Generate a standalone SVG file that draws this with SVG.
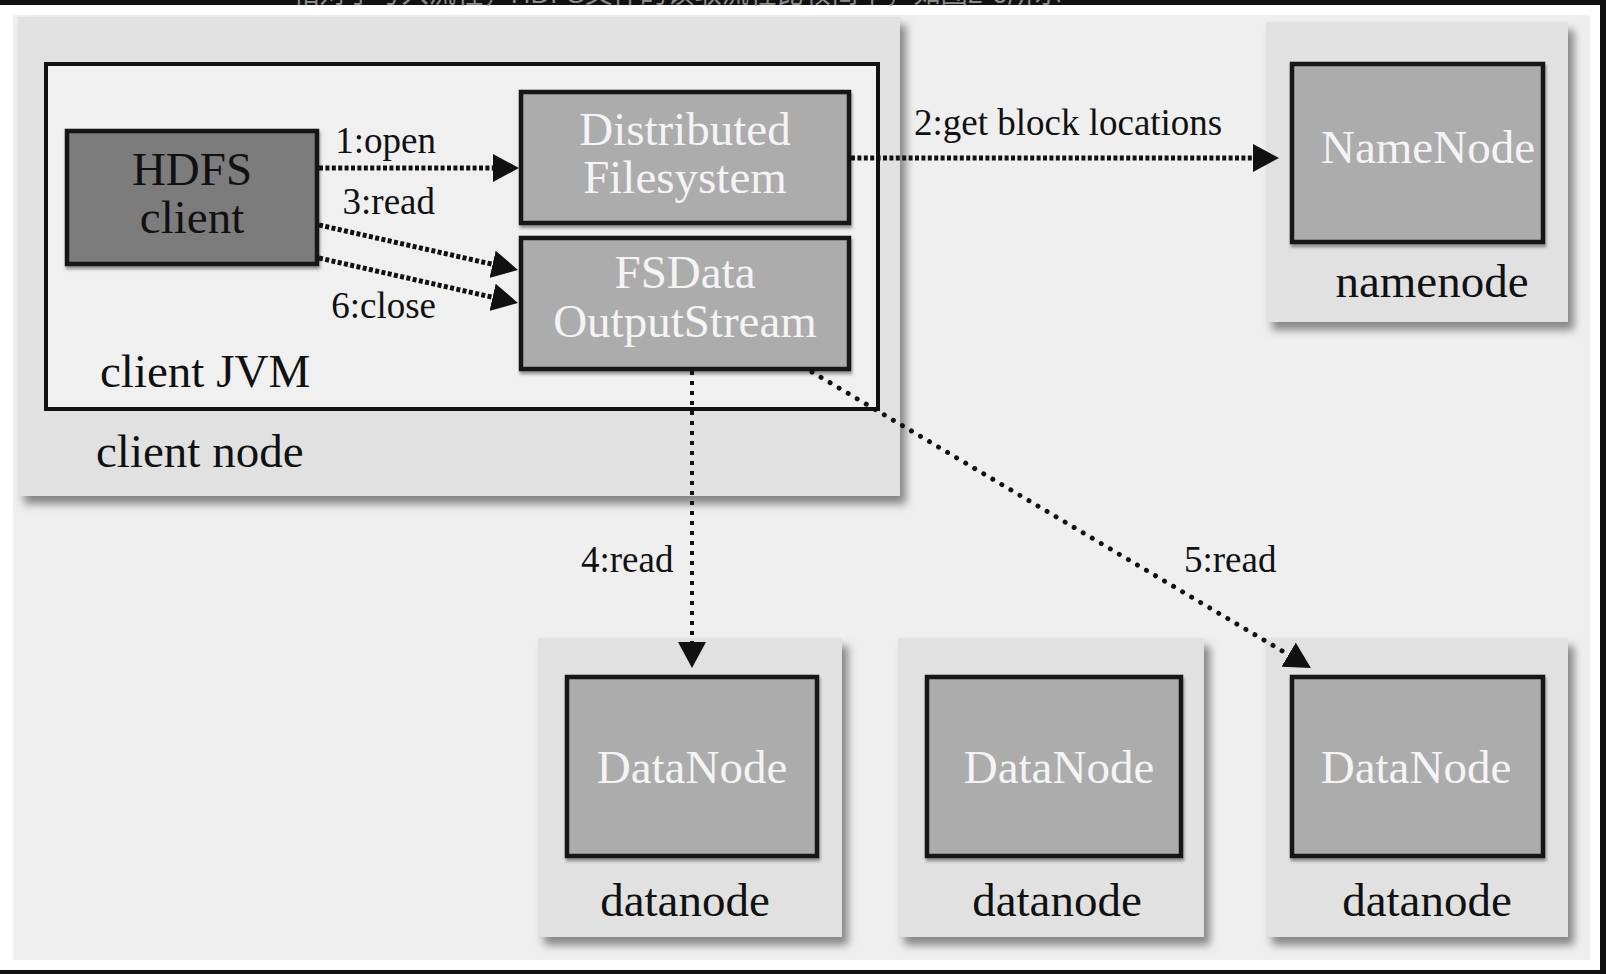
<svg xmlns="http://www.w3.org/2000/svg" width="1606" height="974" viewBox="0 0 1606 974">
  <defs>
    <filter id="shadow" x="-10%" y="-10%" width="125%" height="125%">
      <feDropShadow dx="6" dy="8" stdDeviation="4" flood-color="#7a7a7a" flood-opacity="0.9"/>
    </filter>
    <filter id="ishadow" x="-5%" y="-5%" width="112%" height="115%">
      <feDropShadow dx="1" dy="3" stdDeviation="1.5" flood-color="#555" flood-opacity="0.6"/>
    </filter>
    <marker id="arrow" markerUnits="userSpaceOnUse" markerWidth="27" markerHeight="29" refX="20" refY="14" orient="auto" viewBox="0 0 27 28">
      <path d="M0,0 L26,14 L0,28 z" fill="#111"/>
    </marker>
  </defs>
  <style>
    .outer { fill: #e1e1e1; filter: url(#shadow); }
    .jvm { fill: #f0f0f0; stroke: #111; stroke-width: 4; }
    .inner { fill: #acacac; stroke: #151515; stroke-width: 4.5; filter: url(#ishadow); }
    .dark { fill: #7b7b7b; stroke: #151515; stroke-width: 4.5; filter: url(#ishadow); }
    .big { font-family: "Liberation Serif", "Times New Roman", serif; font-size: 47px; }
    .lbl { font-family: "Liberation Serif", "Times New Roman", serif; font-size: 37px; fill: #111; }
    .white { fill: #f4f4f4; }
    .black { fill: #111; }
    .c { text-anchor: middle; }
    .e { text-anchor: end; }
    .conn { fill: none; stroke: #111; marker-end: url(#arrow); }
    .sq { stroke-width: 5; stroke-dasharray: 4 2.4; }
    .vd { stroke-width: 4; stroke-dasharray: 4 6; }
    .dot { stroke-width: 5; stroke-dasharray: 0.01 10.5; stroke-linecap: round; }
  </style>

  <!-- page frame -->
  <rect x="0" y="0" width="1606" height="974" fill="#111"/>
  <rect x="0" y="5" width="1600" height="965" fill="#ffffff"/>
  <rect x="13" y="15" width="1577" height="945" fill="#efefef"/>
  <text x="292" y="3" font-family="Liberation Sans, Noto Sans CJK SC, sans-serif" font-size="28" fill="#8a8a8a" textLength="770" lengthAdjust="spacingAndGlyphs">相对于写入流程，HDFS文件的读取流程比较简单，如图2-6所示</text>

  <!-- client node -->
  <g id="client-node">
    <rect class="outer" x="18" y="17" width="882" height="479"/>
    <text class="big black" x="96" y="467">client node</text>
  </g>
  <g id="client-jvm">
    <rect class="jvm" x="46" y="64" width="832" height="345"/>
    <text class="big black" x="100" y="387">client JVM</text>
  </g>
  <g id="hdfs-client">
    <rect class="dark" x="67" y="131" width="250" height="133"/>
    <text class="big black c" x="192" y="185">HDFS</text>
    <text class="big black c" x="192" y="233">client</text>
  </g>
  <g id="distributed-filesystem">
    <rect class="inner" x="521" y="92" width="328" height="131"/>
    <text class="big white c" x="685" y="145">Distributed</text>
    <text class="big white c" x="685" y="193">Filesystem</text>
  </g>
  <g id="fsdata-outputstream">
    <rect class="inner" x="521" y="238" width="328" height="131"/>
    <text class="big white c" x="685" y="288">FSData</text>
    <text class="big white c" x="685" y="337">OutputStream</text>
  </g>

  <!-- namenode -->
  <g id="namenode">
    <rect class="outer" x="1266" y="22" width="302" height="300"/>
    <rect class="inner" x="1292" y="64" width="251" height="178"/>
    <text class="big white c" x="1428" y="163">NameNode</text>
    <text class="big black c" x="1432" y="297">namenode</text>
  </g>

  <!-- datanodes -->
  <g id="datanode-1">
    <rect class="outer" x="538" y="638" width="304" height="299"/>
    <rect class="inner" x="567" y="677" width="250" height="179"/>
    <text class="big white c" x="692" y="783">DataNode</text>
    <text class="big black c" x="685" y="916">datanode</text>
  </g>
  <g id="datanode-2">
    <rect class="outer" x="898" y="638" width="306" height="299"/>
    <rect class="inner" x="927" y="677" width="254" height="179"/>
    <text class="big white c" x="1059" y="783">DataNode</text>
    <text class="big black c" x="1057" y="916">datanode</text>
  </g>
  <g id="datanode-3">
    <rect class="outer" x="1266" y="638" width="302" height="299"/>
    <rect class="inner" x="1292" y="677" width="251" height="179"/>
    <text class="big white c" x="1416" y="783">DataNode</text>
    <text class="big black c" x="1427" y="916">datanode</text>
  </g>

  <!-- connectors -->
  <g id="connectors">
    <line class="conn sq" x1="319" y1="168" x2="513" y2="168"/>
    <line class="conn sq" x1="851" y1="158" x2="1273" y2="158"/>
    <line class="conn sq" x1="319" y1="225" x2="512.1" y2="268.7"/>
    <line class="conn sq" x1="319" y1="258" x2="512.1" y2="301.7"/>
    <line class="conn vd" x1="692" y1="371" x2="692" y2="662"/>
    <line class="conn dot" x1="812" y1="372" x2="1305.8" y2="664.9"/>
    <text class="lbl e" x="436" y="153">1:open</text>
    <text class="lbl" x="914" y="135">2:get block locations</text>
    <text class="lbl e" x="435" y="214">3:read</text>
    <text class="lbl" x="581" y="572">4:read</text>
    <text class="lbl" x="1184" y="572">5:read</text>
    <text class="lbl e" x="436" y="318">6:close</text>
  </g>
</svg>
